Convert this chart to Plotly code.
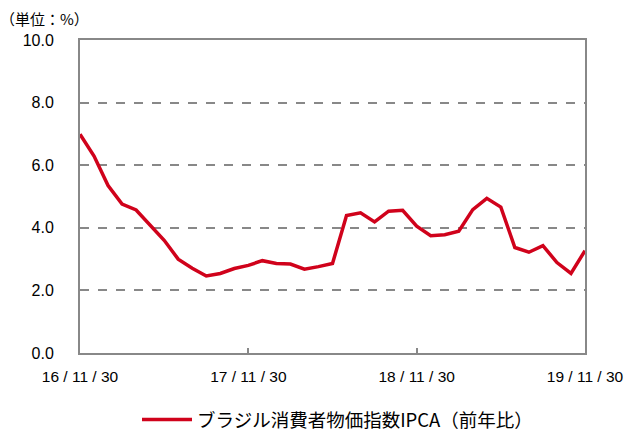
import plotly.graph_objects as go

months = ["2016-11", "2016-12", "2017-01", "2017-02", "2017-03", "2017-04", "2017-05", "2017-06",
          "2017-07", "2017-08", "2017-09", "2017-10", "2017-11", "2017-12", "2018-01", "2018-02",
          "2018-03", "2018-04", "2018-05", "2018-06", "2018-07", "2018-08", "2018-09", "2018-10",
          "2018-11", "2018-12", "2019-01", "2019-02", "2019-03", "2019-04", "2019-05", "2019-06",
          "2019-07", "2019-08", "2019-09", "2019-10", "2019-11"]
ipca = [6.99, 6.29, 5.35, 4.76, 4.57, 4.08, 3.60, 3.00, 2.71, 2.46, 2.54, 2.70, 2.80,
        2.95, 2.86, 2.84, 2.68, 2.76, 2.86, 4.39, 4.48, 4.19, 4.53, 4.56, 4.05, 3.75,
        3.78, 3.89, 4.58, 4.94, 4.66, 3.37, 3.22, 3.43, 2.89, 2.54, 3.27]
tick_labels = ["16 / 11 / 30", "17 / 11 / 30", "18 / 11 / 30", "19 / 11 / 30"]
y_ticks = [0, 2, 4, 6, 8, 10]

x_idx = list(range(len(months)))
font_family = "Liberation Sans, Arial, sans-serif"

W, H = 626, 439
L, R, T, B = 80, 41, 40, 86
plot_h = H - T - B

fig = go.Figure()
fig.add_trace(go.Scatter(
    x=x_idx, y=ipca, mode="lines",
    line=dict(color="#D0021B", width=3.5),
    name="ブラジル消費者物価指数IPCA（前年比）",
    customdata=months,
))

fig.update_layout(
    width=W, height=H,
    margin=dict(l=L, r=R, t=T, b=B, pad=0, autoexpand=False),
    paper_bgcolor="white", plot_bgcolor="white",
    font=dict(family=font_family, size=15, color="#000000"),
    showlegend=True,
    legend=dict(orientation="h", xref="container", yref="container",
                x=137 / W, xanchor="left", y=-7 / H, yanchor="bottom",
                font=dict(family="Noto Sans CJK JP, sans-serif", size=18.5),
                itemwidth=50, bgcolor="rgba(0,0,0,0)"),
    xaxis=dict(
        range=[0, 36], automargin=False,
        tickmode="array", tickvals=[0, 12, 24, 36], ticktext=tick_labels,
        ticks="inside", ticklen=5, tickcolor="#888888", tickwidth=1.5,
        showgrid=False, zeroline=False,
        showline=True, linecolor="#888888", linewidth=2, mirror=True,
        tickfont=dict(size=15.5), ticklabelstandoff=8,
    ),
    yaxis=dict(
        range=[0, 10], automargin=False,
        tickmode="array", tickvals=y_ticks, ticktext=[f"{v:.1f}" for v in y_ticks],
        ticks="", ticklabelstandoff=21,
        showgrid=True, gridcolor="#888888", griddash="dash", gridwidth=1.5,
        zeroline=False,
        showline=True, linecolor="#888888", linewidth=2, mirror=True,
        tickfont=dict(size=16),
    ),
    annotations=[dict(
        text="（単位：%）", xref="paper", yref="paper", x=-0.162, y=(H - B - 19) / plot_h,
        xanchor="left", yanchor="middle", showarrow=False,
        font=dict(family="Noto Sans CJK JP, sans-serif", size=15),
    )],
)

fig.write_html(
    "out.html",
    config={"displayModeBar": False},
    post_script="document.body.style.margin='0';document.body.style.overflow='hidden';",
)
